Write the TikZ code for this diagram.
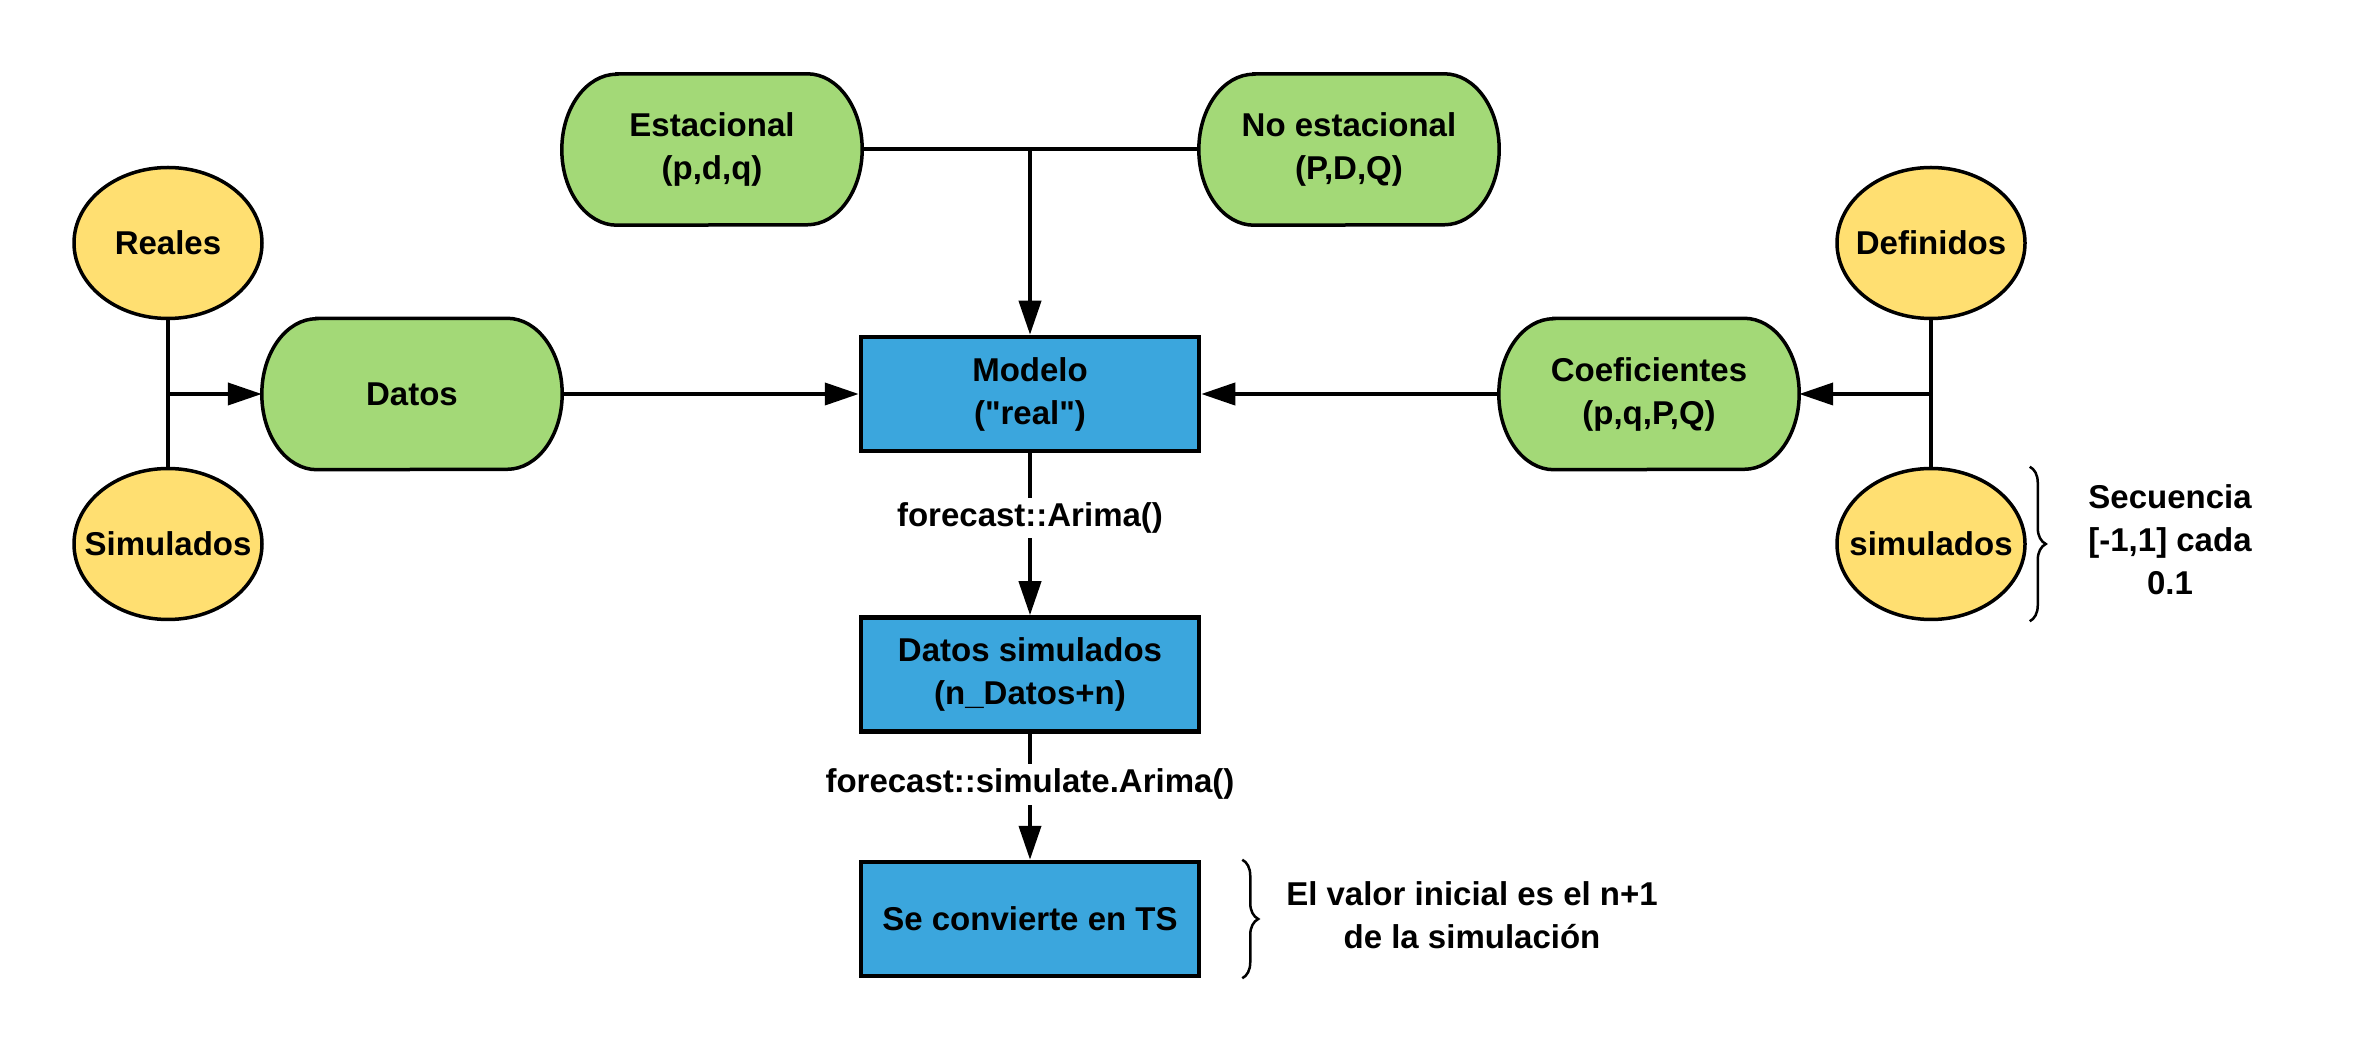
\documentclass[tikz,border=0pt]{standalone}
\usepackage{fontspec}
\setmainfont{Liberation Sans}[Ligatures=TeXOff]
\usetikzlibrary{arrows.meta,shapes.geometric,decorations.pathreplacing,calc}
\pgfdeclarelayer{bg}
\pgfdeclarelayer{paper}
\pgfsetlayers{paper,bg,main}
\definecolor{gfill}{RGB}{163,217,119}
\definecolor{yfill}{RGB}{255,223,113}
\definecolor{bfill}{RGB}{59,166,221}
\newcommand\greenshape[1]{%
  \begin{pgfonlayer}{bg}
  \draw[fill=gfill, line width=3.5pt]
    ([xshift=55pt]#1.north west) -- ([xshift=-55pt]#1.north east)
    arc[start angle=90, end angle=-90, x radius=55pt, y radius=75.5pt]
    -- ([xshift=55pt]#1.south west)
    arc[start angle=270, end angle=90, x radius=55pt, y radius=75.5pt]
    -- cycle;
  \end{pgfonlayer}}
\newcommand\ztext[1]{\makebox[0pt]{#1}}
\tikzset{
  ybox/.style={ellipse, draw, line width=3.5pt, fill=yfill, minimum width=188pt, minimum height=151pt, inner sep=0pt},
  gtext/.style={rectangle, minimum width=300pt, minimum height=151pt, inner sep=0pt, align=center},
  bbox/.style={rectangle, draw, line width=4.5pt, fill=bfill, minimum width=338pt, minimum height=114pt, inner sep=0pt, align=center},
  conn/.style={line width=4pt},
  arr/.style={conn, -{Triangle[length=34pt,width=22pt]}},
  lbl/.style={fill=white, inner sep=5pt},
  note/.style={align=center, inner sep=0pt},
  curly/.style={decorate, decoration={brace, amplitude=16pt}, line width=2.5pt}
}
\begin{document}
\begin{tikzpicture}[x=1pt, y=1pt, font=\fontsize{33}{43}\selectfont\bfseries]
\begin{pgfonlayer}{paper}
\fill[white] (0,0) rectangle (2363,1050);
\end{pgfonlayer}
\useasboundingbox (0,0) rectangle (2363,1050);

% nodes
\node[gtext] (est) at (712,900.5) {Estacional\\(p,d,q)};
\node[gtext] (noest) at (1349,900.5) {No estacional\\(P,D,Q)};
\node[gtext] (dat) at (412,656) {Datos};
\node[gtext] (coef) at (1649,656) {Coeficientes\\(p,q,P,Q)};
\greenshape{est}
\greenshape{noest}
\greenshape{dat}
\greenshape{coef}

\node[ybox] (real) at (168,807) {\ztext{Reales}};
\node[ybox] (sim) at (168,506) {\ztext{Simulados}};
\node[ybox] (def) at (1931,807) {\ztext{Definidos}};
\node[ybox] (sim2) at (1931,506) {\ztext{simulados}};

\node[bbox] (mod) at (1030,656) {Modelo\\("real")};
\node[bbox] (dsim) at (1030,375.5) {Datos simulados\\(n\_Datos+n)};
\node[bbox] (ts) at (1030,131) {Se convierte en TS};

% connectors
\draw[conn] (est.east) -- (noest.west);
\draw[arr] (est.east -| mod.north) -- (mod.north);
\draw[conn] (real.south) -- (sim.north);
\draw[arr] (real.south |- dat.west) -- (dat.west);
\draw[arr] (dat.east) -- (mod.west);
\draw[conn] (def.south) -- (sim2.north);
\draw[arr] (def.south |- coef.east) -- (coef.east);
\draw[arr] (coef.west) -- (mod.east);
\draw[arr] (mod.south) -- (dsim.north) node[lbl, pos=0.4] (l1) {forecast::Arima()};
\draw[arr] (dsim.south) -- (ts.north) node[lbl, pos=0.4] (l2) {forecast::simulate.Arima()};

% braces and notes
\coordinate (b1t) at ([xshift=41pt]ts.north east);
\coordinate (b1b) at ([xshift=41pt]ts.south east);
\draw[curly] (b1t) -- (b1b);
\node[note] (n1) at (1472,135) {El valor inicial es el n+1\\de la simulación};
\coordinate (b2t) at (sim2.east |- sim2.north);
\coordinate (b2b) at (sim2.east |- sim2.south);
\draw[curly] ([xshift=3pt]b2t) -- ([xshift=3pt]b2b);
\node[note] (n2) at (2170,510) {Secuencia\\{}[-1,1] cada\\0.1};
\end{tikzpicture}
\end{document}
